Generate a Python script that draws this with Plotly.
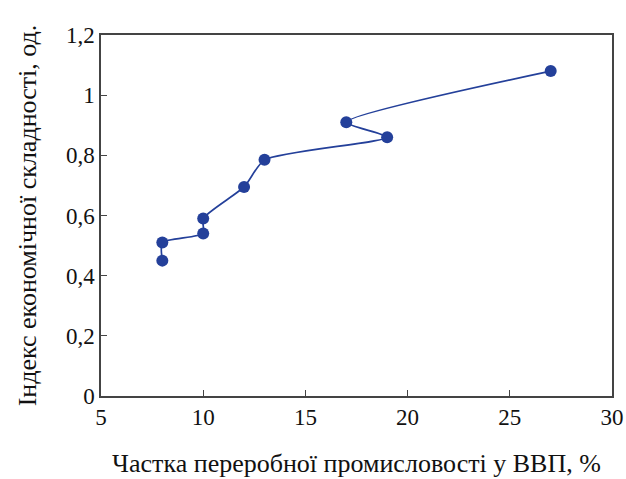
import plotly.graph_objects as go

share_pct = [8.0, 8.0, 10.0, 10.0, 12.0, 13.0, 19.0, 17.0, 27.0]
complexity_idx = [0.45, 0.51, 0.54, 0.59, 0.695, 0.785, 0.86, 0.91, 1.08]

x_title = "Частка переробної промисловості у ВВП, %"
y_title = "Індекс економічної складності, од."

fig = go.Figure()
fig.add_trace(go.Scatter(
    x=share_pct, y=complexity_idx, mode="lines+markers",
    line=dict(color="#24409a", width=1.7, shape="spline", smoothing=0.6),
    marker=dict(color="#24409a", size=12),
    showlegend=False,
))

font_family = "Liberation Serif"
axis_common = dict(
    showline=True, linecolor="#444444", linewidth=1.5, mirror=True,
    ticks="inside", ticklen=6, tickcolor="#444444", tickwidth=1.2,
    showgrid=False, zeroline=False, automargin=False,
    tickfont=dict(family=font_family, size=23, color="#111111"),
)
fig.update_xaxes(range=[5, 30], dtick=5, tick0=5,
                 title=dict(text=x_title, font=dict(family=font_family, size=26, color="#111111"), standoff=24),
                 **axis_common)
fig.update_yaxes(range=[0, 1.2], dtick=0.2, tick0=0,
                 title=dict(text=y_title, font=dict(family=font_family, size=26, color="#111111"), standoff=22),
                 **axis_common)
fig.update_layout(
    width=626, height=479,
    margin=dict(l=101, r=14, t=35, b=83, autoexpand=False),
    paper_bgcolor="white", plot_bgcolor="white",
    separators=", ",
    font=dict(family=font_family),
)
fig.write_html(
    "out.html",
    config={"displayModeBar": False},
    post_script="document.body.style.margin='0';document.body.style.overflow='hidden';",
)
